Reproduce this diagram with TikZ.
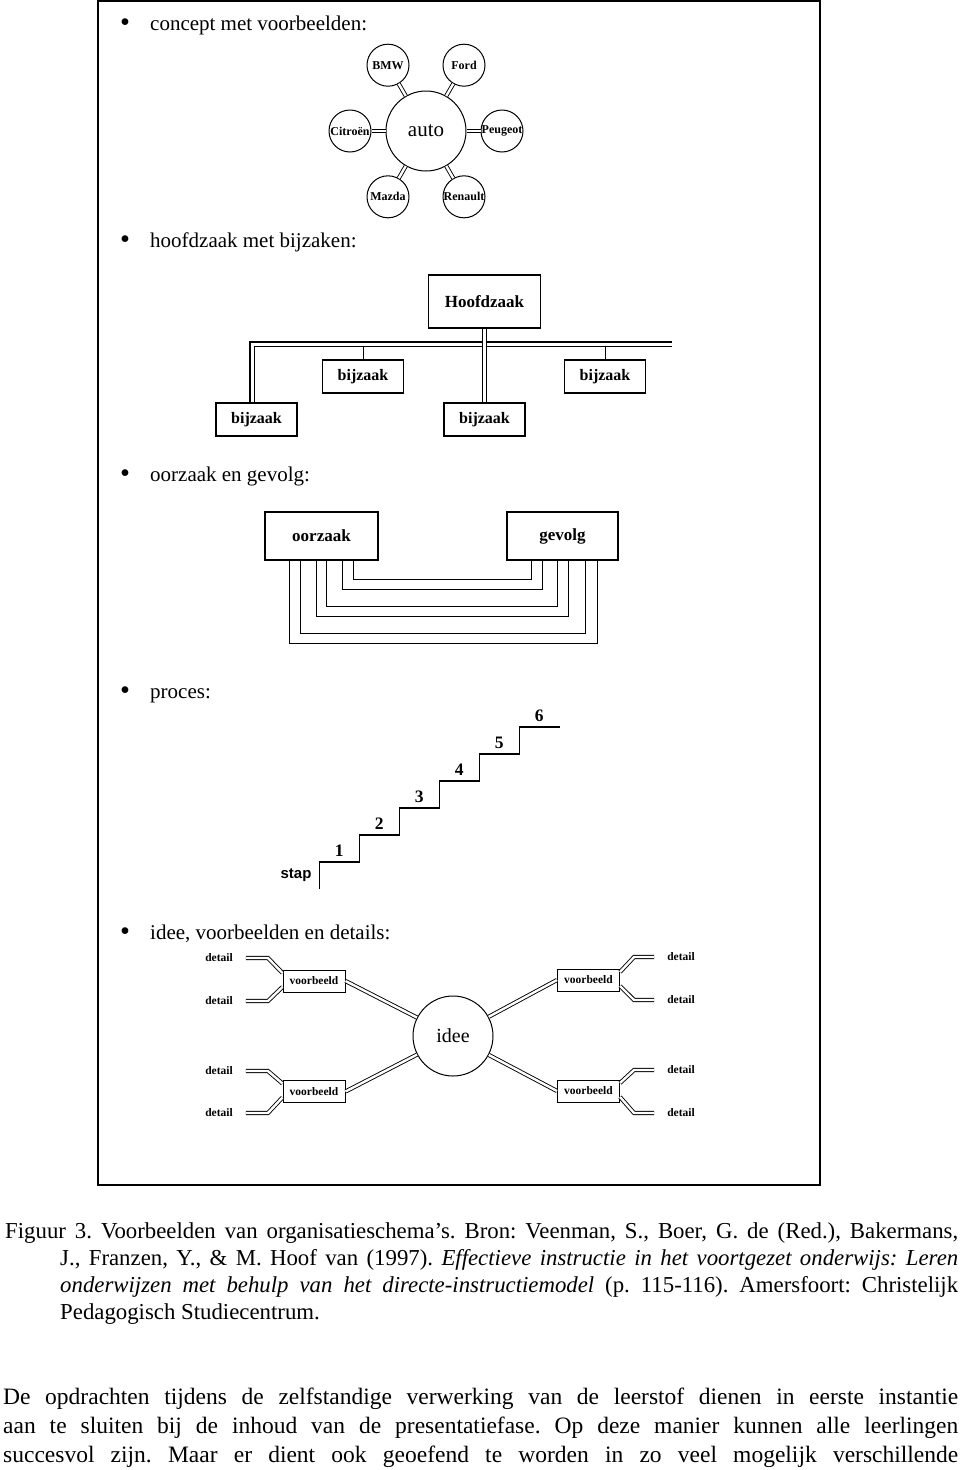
\documentclass[tikz,border=0pt]{standalone}
\usepackage{fontspec}
\setmainfont{Liberation Serif}
\newfontfamily\schreef{Liberation Sans}
\usetikzlibrary{calc}
\frenchspacing
\tikzstyle{kop} = [anchor=base west, inner sep=0pt, font=\fontsize{21}{24}\selectfont]
\tikzstyle{vak} = [draw, line width=1.3pt, inner sep=0pt, font=\bfseries\fontsize{17}{20}\selectfont]
\tikzstyle{bij} = [vak, minimum width=81pt, minimum height=33pt, font=\bfseries\fontsize{16}{19}\selectfont]
\tikzstyle{klein} = [draw, line width=1pt, inner sep=0pt, minimum width=62pt, minimum height=22pt, font=\bfseries\fontsize{11.5}{13}\selectfont]
\tikzstyle{merk} = [draw, circle, line width=1pt, inner sep=0pt, minimum size=42pt, font=\bfseries\fontsize{12}{14}\selectfont]
\tikzstyle{groot} = [draw, circle, line width=1pt, inner sep=0pt, minimum size=80pt, font=\fontsize{21}{24}\selectfont]
\tikzstyle{det} = [inner ysep=0pt, inner xsep=13pt, font=\bfseries\fontsize{11.5}{13}\selectfont]
\tikzstyle{dbl} = [draw, double, line width=0.9pt, double distance=2.4pt]
\tikzstyle{dbl2} = [draw, double, line width=1.1pt, double distance=3pt]
\tikzstyle{trap} = [line width=1.6pt]
\tikzstyle{cijfer} = [inner sep=0pt, font=\bfseries\fontsize{17.5}{20}\selectfont]
\tikzstyle{tekst} = [anchor=base west, inner sep=0pt, font=\fontsize{22.8}{27}\selectfont]
\tikzstyle{tekst2} = [anchor=base west, inner sep=0pt, font=\fontsize{23.5}{29}\selectfont]
\newcommand{\stip}{\makebox[30pt][l]{\raisebox{-1.5pt}{\scalebox{1.35}{\textbullet}}}}

\begin{document}
\begin{tikzpicture}[x=1pt,y=-1pt]
\useasboundingbox (0,0) rectangle (960,1470);
\draw[line width=1.4pt] (98,1) rectangle (820,1185);

% concept met voorbeelden
\node[kop] (kop1) at (120,30) {\stip concept met voorbeelden:};
\node[groot] (auto) at (426,131) {auto};
\foreach \naam/\tekst/\hoek in {bmw/BMW/240, ford/Ford/300, citroen/Citroën/180, peugeot/Peugeot/0, mazda/Mazda/120, renault/Renault/60}
{
 \node[merk] (\naam) at ($(auto)+(\hoek:76)$) {\tekst};
 \draw[dbl] (auto) -- (\naam);
}

% hoofdzaak met bijzaken
\node[kop] (kop2) at (120,247) {\stip hoofdzaak met bijzaken:};
\node[vak, minimum width=112pt, minimum height=53pt] (hoofd) at (484.5,301.5) {Hoofdzaak};
\node[bij] (bij1) at (256.5,419.5) {bijzaak};
\node[bij] (bij2) at (363,376.5) {bijzaak};
\node[bij] (bij3) at (484.5,419.5) {bijzaak};
\node[bij] (bij4) at (605,376.5) {bijzaak};
\coordinate (open) at (672,344);
\coordinate (onder) at (484.5,347);
\draw[dbl2] (open) -| ([xshift=-4.5pt]bij1.north);
\draw[dbl2] (hoofd) -- (bij3);
\draw[line width=1pt] (bij2) -- (bij2 |- onder);
\draw[line width=1pt] (bij4) -- (bij4 |- onder);

% oorzaak en gevolg
\node[kop] (kop3) at (120,481) {\stip oorzaak en gevolg:};
\node[vak, minimum width=113pt, minimum height=48pt] (oorzaak) at (321.5,536) {oorzaak};
\node[vak, minimum width=111pt, minimum height=48pt] (gevolg) at (562.5,536) {gevolg};
\foreach \a/\b/\d in {25/21/83, 36/33/73, 52/50/56, 62/61/46, 78/76/29, 89/87/19}
 \draw[line width=1.1pt] ([xshift=\a pt]oorzaak.south west) -- ++(0,\d) -| ([xshift=-\b pt]gevolg.south east);

% proces
\node[kop] (kop4) at (120,698) {\stip proces:};
\draw[trap] (319.3,889) -- ++(0,-27.3) \foreach \i in {1,...,5}{ -- ++(40,0) -- ++(0,-26.9)} -- ++(40.7,0);
\foreach \i in {1,...,6}
 \node[cijfer] (trede\i) at (339.3+40*\i-40, 850.5-26.9*\i+26.9) {\i};
\node[font=\schreef\bfseries\fontsize{15}{18}\selectfont, inner sep=0pt] (stap) at (296,875) {stap};

% idee, voorbeelden en details
\node[kop] (kop5) at (120,939) {\stip idee, voorbeelden en details:};
\node[groot, font=\fontsize{20}{24}\selectfont] (idee) at (453,1036) {idee};
\node[klein] (vb1) at (314,981) {voorbeeld};
\node[klein] (vb2) at (314,1091.5) {voorbeeld};
\node[klein] (vb3) at (588.5,980) {voorbeeld};
\node[klein] (vb4) at (588.5,1091) {voorbeeld};
\draw[dbl] (vb1.east) -- (idee);
\draw[dbl] (vb2.east) -- (idee);
\draw[dbl] (vb3.west) -- (idee);
\draw[dbl] (vb4.west) -- (idee);
\node[det] (d1) at (219,958) {detail};
\node[det] (d2) at (219,1001) {detail};
\node[det] (d3) at (219,1071) {detail};
\node[det] (d4) at (219,1113) {detail};
\node[det] (d5) at (681,957) {detail};
\node[det] (d6) at (681,1000) {detail};
\node[det] (d7) at (681,1070) {detail};
\node[det] (d8) at (681,1113) {detail};
\draw[dbl] ([yshift=8pt]vb1.west) -- ([xshift=22pt]d1.east) -- (d1.east);
\draw[dbl] ([yshift=-6pt]vb1.west) -- ([xshift=22pt]d2.east) -- (d2.east);
\draw[dbl] ([yshift=8pt]vb2.west) -- ([xshift=22pt]d3.east) -- (d3.east);
\draw[dbl] ([yshift=-6pt]vb2.west) -- ([xshift=22pt]d4.east) -- (d4.east);
\draw[dbl] ([yshift=8pt]vb3.east) -- ([xshift=-20pt]d5.west) -- (d5.west);
\draw[dbl] ([yshift=-6pt]vb3.east) -- ([xshift=-20pt]d6.west) -- (d6.west);
\draw[dbl] ([yshift=8pt]vb4.east) -- ([xshift=-20pt]d7.west) -- (d7.west);
\draw[dbl] ([yshift=-6pt]vb4.east) -- ([xshift=-20pt]d8.west) -- (d8.west);

% bijschrift en tekst
\node[tekst] (bron1) at (5,1238) {\makebox[953pt][s]{Figuur 3. Voorbeelden van organisatieschema’s. Bron: Veenman, S., Boer, G. de (Red.), Bakermans,}};
\node[tekst] (bron2) at (60,1265) {\makebox[898pt][s]{J., Franzen, Y., \& M. Hoof van (1997). \textit{Effectieve instructie in het voortgezet onderwijs: Leren}}};
\node[tekst] (bron3) at (60,1292) {\makebox[898pt][s]{\textit{onderwijzen met behulp van het directe-instructiemodel} (p. 115-116). Amersfoort: Christelijk}};
\node[tekst] (bron4) at (60,1319) {Pedagogisch Studiecentrum.};
\node[tekst2] (alinea1) at (3,1404) {\makebox[955pt][s]{De opdrachten tijdens de zelfstandige verwerking van de leerstof dienen in eerste instantie}};
\node[tekst2] (alinea2) at (3,1433) {\makebox[955pt][s]{aan te sluiten bij de inhoud van de presentatiefase. Op deze manier kunnen alle leerlingen}};
\node[tekst2] (alinea3) at (3,1462) {\makebox[955pt][s]{succesvol zijn. Maar er dient ook geoefend te worden in zo veel mogelijk verschillende}};
\end{tikzpicture}
\end{document}
